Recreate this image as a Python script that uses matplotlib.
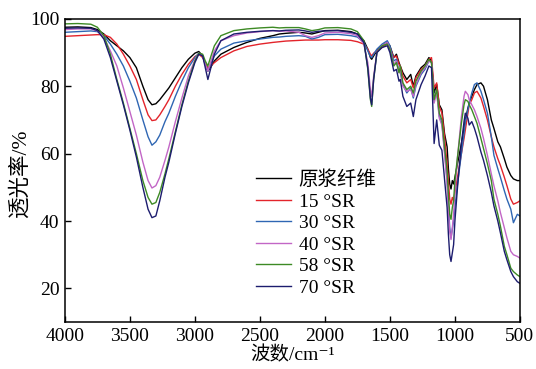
import numpy as np
import matplotlib
matplotlib.use('Agg')
from matplotlib import pyplot as plt

plt.rcParams['font.family'] = ['Liberation Serif', 'Noto Sans CJK SC', 'DejaVu Serif']

wn = [4000, 3900, 3800, 3750, 3700, 3650, 3600, 3550, 3500, 3450,
      3400, 3360, 3330, 3300, 3270, 3230, 3200, 3150, 3100, 3050,
      3000, 2970, 2940, 2920, 2900, 2880, 2850, 2800, 2700, 2600,
      2500, 2400, 2350, 2300, 2200, 2150, 2100, 2050, 2000, 1900,
      1800, 1750, 1700, 1670, 1650, 1640, 1625, 1600, 1560, 1520,
      1500, 1470, 1450, 1430, 1420, 1400, 1370, 1340, 1320, 1300,
      1260, 1230, 1200, 1180, 1160, 1140, 1120, 1100, 1080, 1060,
      1050, 1040, 1030, 1020, 1010, 1000, 980, 950, 930, 920,
      900, 890, 870, 850, 830, 800, 780, 750, 720, 700,
      670, 650, 620, 600, 570, 550, 520, 500]

t_raw = [97.5, 97.6, 97.4, 96.8, 95.5, 93.5, 92.0, 90.5, 88.5, 85.5,
         80.0, 76.0, 74.5, 74.8, 76.0, 78.0, 79.5, 82.5, 85.5, 88.0,
         89.8, 90.3, 89.0, 86.5, 84.5, 85.5, 87.5, 89.5, 91.5, 93.0,
         94.2, 95.0, 95.5, 95.7, 96.0, 95.8, 95.5, 96.0, 96.5, 96.6,
         96.2, 95.5, 93.5, 91.0, 88.5, 88.0, 89.0, 90.5, 92.0, 93.0,
         92.0, 88.5, 89.5, 87.0, 86.0, 84.0, 82.0, 83.5, 80.0, 83.0,
         85.5, 86.5, 88.5, 87.5, 78.0, 80.5, 74.5, 73.0, 66.0, 62.0,
         55.5, 51.0, 49.5, 52.0, 51.0, 53.0, 57.0, 63.0, 67.5, 70.0,
         73.5, 75.0, 77.0, 79.0, 80.5, 81.0, 80.0, 76.0, 70.0, 67.5,
         63.5, 62.0, 58.5, 56.0, 53.5, 52.5, 52.0, 52.0]

t_15 = [94.8, 95.0, 95.2, 95.3, 95.3, 94.5, 92.5, 89.5, 86.0, 82.0,
        76.0, 71.5, 69.8, 70.0, 71.5, 74.0, 76.0, 80.0, 83.5, 86.5,
        88.8, 89.5, 88.5, 87.0, 85.5, 86.0, 87.0, 88.5, 90.5, 91.8,
        92.5, 93.0, 93.2, 93.4, 93.6, 93.7, 93.7, 93.7, 93.8, 93.8,
        93.6, 93.2, 92.5, 91.0, 89.5, 89.0, 89.8, 90.5, 91.5, 92.5,
        91.5, 88.5, 89.0, 86.5, 86.0, 83.0, 81.0, 82.0, 79.5, 82.5,
        85.0, 86.0, 88.0, 88.5, 79.5, 81.0, 74.0, 72.0, 65.0, 57.0,
        52.0, 46.5, 45.0, 47.0, 46.0, 48.5, 53.0, 60.0, 64.5, 67.0,
        72.0, 74.5, 76.0, 78.0, 78.5, 76.5, 74.0, 70.0, 65.0, 62.0,
        58.5, 56.5, 53.0, 50.5, 46.5, 45.0, 45.5, 46.0]

t_30 = [96.0, 96.2, 96.4, 96.2, 95.0, 92.5, 89.5, 86.0, 81.5, 76.5,
        70.0, 65.0, 62.5, 63.5, 65.5, 69.5, 72.0, 77.0, 81.5, 85.5,
        88.5, 89.8, 89.0, 86.5, 84.5, 86.5, 89.0, 91.0, 92.8, 93.5,
        94.0, 94.5, 94.6, 94.8, 95.0, 94.8, 94.0, 94.5, 95.3, 95.4,
        95.0, 94.6, 93.0, 90.5, 88.8, 88.5, 89.5, 91.0, 92.5, 93.5,
        92.0, 87.5, 88.0, 84.5, 84.0, 80.5, 78.0, 79.5, 76.5, 80.0,
        83.5, 85.0, 87.5, 87.0, 76.0, 78.5, 71.0, 69.0, 61.0, 52.0,
        45.0, 38.0, 35.0, 37.5, 40.0, 44.0, 51.0, 60.0, 66.0, 69.5,
        73.0, 75.0, 78.0, 80.5, 81.0, 78.5, 76.0, 72.0, 65.0, 59.5,
        55.5, 53.0, 49.0, 46.5, 43.5, 39.5, 42.0, 41.5]

t_40 = [96.8, 97.0, 97.0, 96.4, 94.5, 90.5, 86.0, 79.5, 72.5, 65.5,
        57.5, 52.0, 49.8, 50.5, 53.0, 58.0, 62.0, 69.5, 76.5, 83.0,
        87.8, 89.8, 89.0, 86.5, 84.5, 87.0, 90.5, 93.5, 95.0, 95.8,
        96.2, 96.5, 96.3, 96.4, 96.0, 95.0, 94.5, 95.0, 95.8, 96.0,
        95.6, 95.0, 92.5, 87.0, 79.0, 77.0, 83.0, 90.0, 92.0, 93.0,
        91.0, 86.5, 87.5, 84.0, 85.0, 80.0, 78.5, 79.0, 77.0, 80.5,
        84.0, 85.5, 87.5, 87.0, 75.0, 78.0, 70.5, 68.5, 60.0, 51.0,
        43.0, 37.0, 34.5, 38.0, 42.0, 49.0, 59.0, 71.0, 77.0, 78.5,
        77.5, 76.0, 74.5, 73.0, 71.0, 67.5, 64.5, 59.5, 54.0, 50.5,
        46.0, 42.5, 38.0, 35.0, 31.0, 30.0, 29.5, 29.0]

t_58 = [98.5, 98.6, 98.4, 97.5, 95.0, 89.5, 82.0, 75.0, 67.5, 60.0,
        52.0, 47.0, 45.0, 45.5, 48.5, 54.0, 58.5, 66.5, 74.5, 81.5,
        87.5, 89.8, 89.5, 87.5, 86.0, 88.5, 92.0, 95.0, 96.5, 97.0,
        97.3, 97.5, 97.3, 97.4, 97.4, 97.0, 96.5, 96.8, 97.3, 97.4,
        97.0, 96.2, 93.5, 85.0, 76.0, 74.0, 82.0, 90.0, 92.0, 92.5,
        91.0, 86.0, 87.0, 84.0, 86.0, 81.0, 79.0, 80.0, 78.0, 81.5,
        84.5, 86.0, 88.0, 87.0, 76.0, 79.0, 72.0, 70.0, 62.0, 55.0,
        48.0, 42.0, 40.5, 44.0, 46.0, 52.0, 59.0, 69.0, 74.5, 76.0,
        75.5, 74.5, 73.0, 71.0, 69.0, 64.5, 61.5, 57.0, 52.0, 46.5,
        42.0, 38.5, 32.5, 30.0, 26.0, 25.0, 24.0, 23.5]

t_70 = [97.2, 97.3, 97.2, 96.5, 94.0, 88.5, 81.5, 74.5, 67.0, 59.0,
        50.0, 43.5, 41.0, 41.5, 46.0, 53.0, 57.5, 66.0, 74.0, 81.0,
        87.0, 89.5, 89.0, 85.5, 82.0, 85.0, 89.5, 93.5, 95.5, 96.0,
        96.3, 96.5, 96.4, 96.6, 96.7, 96.4, 96.0, 96.3, 96.4, 96.5,
        96.0, 95.5, 93.0, 85.5, 76.5, 74.5, 82.0, 90.0, 91.5, 92.0,
        90.0, 84.5, 85.0, 81.5, 82.0, 77.0, 74.0, 75.0, 71.0, 76.0,
        80.5, 83.0, 86.0, 85.5, 63.0, 70.0, 62.5, 61.0, 52.5, 44.0,
        36.0, 30.0, 28.0, 30.5, 33.0, 40.0, 50.0, 63.0, 69.5, 72.0,
        70.5, 68.5, 69.5, 67.5, 65.0, 60.5, 58.0, 53.5, 48.5, 44.5,
        40.0, 36.5, 31.0, 28.5, 25.0, 23.5, 22.0, 21.5]

labels = ['原浆纤维', '15 °SR', '30 °SR', '40 °SR', '58 °SR', '70 °SR']
colors = ['#000000', '#e3242b', '#2f66b3', '#c266c6', '#3d8a24', '#1c1c6e']
series = [t_raw, t_15, t_30, t_40, t_58, t_70]

fig = plt.figure(figsize=(5.36, 3.69), dpi=100)
ax = fig.add_axes([0.121, 0.127, 0.849, 0.822])

for s, c, l in zip(series, colors, labels):
    ax.plot(wn, s, color=c, lw=1.0, label=l)

ax.set_xlim(4000, 500)
ax.set_ylim(10, 100)
ax.set_xticks(np.arange(4000, 499, -500))
ax.set_yticks([20, 40, 60, 80, 100])
ax.tick_params(direction='in', length=4, width=1, labelsize=14, pad=4,
               top=False, right=False)
for sp in ax.spines.values():
    sp.set_linewidth(1.1)

ax.set_xlabel('波数/cm⁻¹', fontsize=14, labelpad=1)
ax.set_ylabel('透光率/%', fontsize=15.5)
ax.yaxis.set_label_coords(-0.076, 0.49)

ax.legend(loc='upper left', bbox_to_anchor=(0.42, 0.50), frameon=False,
          fontsize=14, handlelength=1.8, handletextpad=0.4,
          labelspacing=0.2, borderpad=0, borderaxespad=0)

fig.savefig('out.png', dpi=100)
